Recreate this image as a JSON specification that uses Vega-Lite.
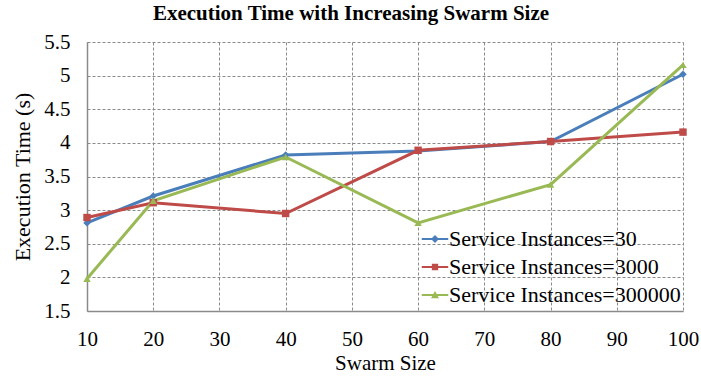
{
  "$schema": "https://vega.github.io/schema/vega-lite/v6.json",
  "width": 596,
  "height": 269,
  "autosize": {"type": "none"},
  "padding": {"left": 87, "top": 42, "right": 18, "bottom": 65},
  "background": "white",
  "title": {
    "text": "Execution Time with Increasing Swarm Size",
    "font": "Liberation Serif",
    "fontSize": 21,
    "fontWeight": "bold",
    "color": "black",
    "anchor": "middle",
    "frame": "group",
    "dx": -34,
    "offset": 7
  },
  "config": {
    "font": "Liberation Serif",
    "view": {"stroke": null},
    "axis": {
      "labelFont": "Liberation Serif",
      "labelFontSize": 21,
      "labelColor": "black",
      "labelOverlap": false,
      "labelFlush": false,
      "titleFont": "Liberation Serif",
      "titleFontSize": 21,
      "titleFontWeight": "normal",
      "titleColor": "black",
      "grid": true,
      "gridColor": "#8a8a8a",
      "gridDash": [3, 2],
      "gridWidth": 1,
      "domainColor": "#8a8a8a",
      "domainWidth": 1.5,
      "ticks": false
    }
  },
  "data": {
    "values": [
      {"size": 10, "time": 2.81, "series": "Service Instances=30"},
      {"size": 20, "time": 3.21, "series": "Service Instances=30"},
      {"size": 40, "time": 3.82, "series": "Service Instances=30"},
      {"size": 60, "time": 3.88, "series": "Service Instances=30"},
      {"size": 80, "time": 4.02, "series": "Service Instances=30"},
      {"size": 100, "time": 5.02, "series": "Service Instances=30"},
      {"size": 10, "time": 2.89, "series": "Service Instances=3000"},
      {"size": 20, "time": 3.11, "series": "Service Instances=3000"},
      {"size": 40, "time": 2.95, "series": "Service Instances=3000"},
      {"size": 60, "time": 3.89, "series": "Service Instances=3000"},
      {"size": 80, "time": 4.02, "series": "Service Instances=3000"},
      {"size": 100, "time": 4.16, "series": "Service Instances=3000"},
      {"size": 10, "time": 1.98, "series": "Service Instances=300000"},
      {"size": 20, "time": 3.14, "series": "Service Instances=300000"},
      {"size": 40, "time": 3.79, "series": "Service Instances=300000"},
      {"size": 60, "time": 2.81, "series": "Service Instances=300000"},
      {"size": 80, "time": 3.38, "series": "Service Instances=300000"},
      {"size": 100, "time": 5.16, "series": "Service Instances=300000"}
    ]
  },
  "encoding": {
    "x": {
      "field": "size",
      "type": "quantitative",
      "scale": {"domain": [10, 100], "nice": false},
      "axis": {
        "values": [10, 20, 30, 40, 50, 60, 70, 80, 90, 100],
        "labelFont": "Liberation Serif",
        "labelFontSize": 21,
        "labelOverlap": false,
        "labelFlush": false,
        "labelPadding": 17,
        "title": "Swarm Size",
        "titleFontSize": 21,
        "titlePadding": 3
      }
    },
    "y": {
      "field": "time",
      "type": "quantitative",
      "scale": {"domain": [1.5, 5.5], "nice": false, "zero": false},
      "axis": {
        "values": [1.5, 2, 2.5, 3, 3.5, 4, 4.5, 5, 5.5],
        "format": "~g",
        "labelFont": "Liberation Serif",
        "labelFontSize": 21,
        "labelOverlap": false,
        "labelFlush": false,
        "labelPadding": 17,
        "title": "Execution Time (s)",
        "titleFontSize": 22,
        "titlePadding": 9
      }
    }
  },
  "layer": [
    {
      "mark": {"type": "line", "strokeWidth": 3},
      "encoding": {
        "color": {
          "field": "series",
          "type": "nominal",
          "scale": {
            "domain": ["Service Instances=30", "Service Instances=3000", "Service Instances=300000"],
            "range": ["#4a7ebb", "#be4b48", "#98b954"]
          },
          "legend": null
        }
      }
    },
    {
      "mark": {"type": "point", "filled": true, "opacity": 1, "size": 55},
      "encoding": {
        "color": {
          "field": "series",
          "type": "nominal",
          "scale": {
            "domain": ["Service Instances=30", "Service Instances=3000", "Service Instances=300000"],
            "range": ["#4a7ebb", "#be4b48", "#98b954"]
          },
          "legend": null
        },
        "shape": {
          "field": "series",
          "type": "nominal",
          "scale": {
            "domain": ["Service Instances=30", "Service Instances=3000", "Service Instances=300000"],
            "range": ["diamond", "square", "triangle-up"]
          },
          "legend": null
        }
      }
    },
    {
      "transform": [{"filter": "datum.size < 0"}],
      "mark": {"type": "point", "filled": true, "opacity": 1},
      "encoding": {
        "color": {
          "field": "series",
          "type": "nominal",
          "scale": {
            "domain": ["Service Instances=30", "Service Instances=3000", "Service Instances=300000"],
            "range": ["#4a7ebb", "#be4b48", "#98b954"]
          },
          "legend": {
            "orient": "none",
            "legendX": 334,
            "legendY": 183,
            "title": null,
            "labelFont": "Liberation Serif",
            "labelFontSize": 22,
            "labelColor": "black",
            "labelLimit": 400,
            "labelOffset": 0,
            "symbolSize": 700,
            "symbolOpacity": 1,
            "rowPadding": 3
          }
        },
        "shape": {
          "field": "series",
          "type": "nominal",
          "scale": {
            "domain": ["Service Instances=30", "Service Instances=3000", "Service Instances=300000"],
            "range": [
              "M-1,-0.07H1V0.07H-1Z M0,-0.3L0.3,0L0,0.3L-0.3,0Z",
              "M-1,-0.07H1V0.07H-1Z M-0.24,-0.24H0.24V0.24H-0.24Z",
              "M-1,-0.07H1V0.07H-1Z M0,-0.3L0.3,0.24H-0.3Z"
            ]
          },
          "legend": {
            "orient": "none",
            "legendX": 334,
            "legendY": 183,
            "title": null,
            "labelFont": "Liberation Serif",
            "labelFontSize": 22,
            "labelColor": "black",
            "labelLimit": 400,
            "labelOffset": 0,
            "symbolSize": 700,
            "symbolOpacity": 1,
            "rowPadding": 3
          }
        }
      }
    }
  ],
  "resolve": {"scale": {"color": "independent", "shape": "independent"}}
}
